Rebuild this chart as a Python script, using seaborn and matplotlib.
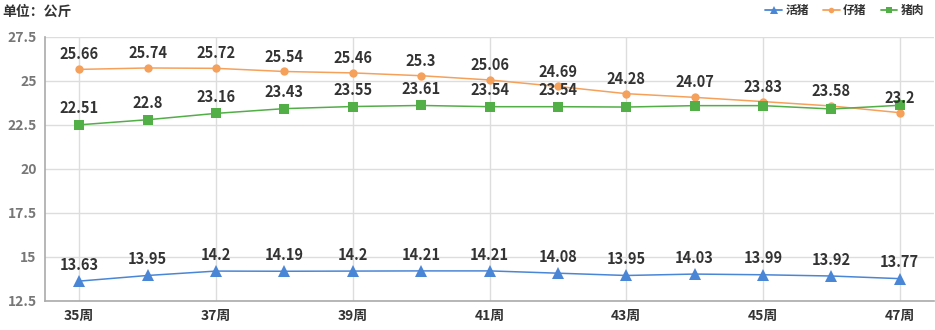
import matplotlib
matplotlib.use("Agg")
import matplotlib.pyplot as plt
import seaborn as sns
import pandas as pd
from matplotlib.lines import Line2D

weeks = [35, 36, 37, 38, 39, 40, 41, 42, 43, 44, 45, 46, 47]
tick_weeks = [35, 37, 39, 41, 43, 45, 47]
tick_labels = ["35周", "37周", "39周", "41周", "43周", "45周", "47周"]
live_pig = [13.63, 13.95, 14.2, 14.19, 14.2, 14.21, 14.21, 14.08, 13.95, 14.03, 13.99, 13.92, 13.77]
piglet = [25.66, 25.74, 25.72, 25.54, 25.46, 25.3, 25.06, 24.69, 24.28, 24.07, 23.83, 23.58, 23.2]
pork = [22.51, 22.8, 23.16, 23.43, 23.55, 23.61, 23.54, 23.54, 23.52, 23.6, 23.6, 23.41, 23.62]
pork_labeled = 8  # only the first 8 pork labels are visible in the original
y_ticks = [12.5, 15, 17.5, 20, 22.5, 25, 27.5]
y_tick_labels = ["12.5", "15", "17.5", "20", "22.5", "25", "27.5"]

sns.set_theme(style="white")
plt.rcParams['font.family'] = ['Noto Sans CJK SC', 'DejaVu Sans']

fig = plt.figure(figsize=(9.35, 3.3), dpi=100)
ax = fig.add_axes([45/935, 29/330, 889/935, 264/330])

c_blue = "#4a86d6"
c_orange = "#f6a15b"
c_green = "#52ae47"

df = pd.DataFrame({"week": weeks, "活猪": live_pig, "仔猪": piglet, "猪肉": pork})

sns.lineplot(data=df, x="week", y="活猪", ax=ax, color=c_blue, marker="^",
             markersize=9, markeredgewidth=0, linewidth=1.1)
sns.lineplot(data=df, x="week", y="仔猪", ax=ax, color=c_orange, marker="o",
             markersize=6, markeredgewidth=0, linewidth=1.1)
sns.lineplot(data=df, x="week", y="猪肉", ax=ax, color=c_green, marker="s",
             markersize=7, markeredgewidth=0, linewidth=1.1)

lab_kw = dict(textcoords="offset points", ha="center", va="bottom",
              fontsize=10.5, fontweight="bold", color="#333333")
for w, v in zip(weeks, live_pig):
    ax.annotate(f"{v:g}", (w, v), xytext=(0, 6), **lab_kw)
for w, v in zip(weeks, piglet):
    ax.annotate(f"{v:g}", (w, v), xytext=(0, 5), **lab_kw)
for w, v in list(zip(weeks, pork))[:pork_labeled]:
    ax.annotate(f"{v:g}", (w, v), xytext=(0, 6), **lab_kw)

ax.set_xlim(34.5, 47.5)
ax.set_ylim(12.5, 27.5)
ax.set_xticks(tick_weeks)
ax.set_xticklabels(tick_labels, fontsize=10, fontweight="bold", color="#333333")
ax.set_yticks(y_ticks)
ax.set_yticklabels(y_tick_labels, fontsize=10, fontweight="bold", color="#777777")
ax.set_xlabel("")
ax.set_ylabel("")
ax.tick_params(axis="both", length=0, pad=6)
ax.grid(True, color="#dddddd", linewidth=1)
ax.set_axisbelow(True)
for s in ["top", "right"]:
    ax.spines[s].set_visible(False)
for s in ["left", "bottom"]:
    ax.spines[s].set_color("#aaaaaa")
    ax.spines[s].set_linewidth(1.2)

fig.text(2/935, 1 - 12/330, "单位：公斤", fontsize=10, fontweight="bold",
         color="#333333", va="center", ha="left")

handles = [
    Line2D([0], [0], color=c_blue, marker="^", markersize=6, markeredgewidth=0, linewidth=1.3),
    Line2D([0], [0], color=c_orange, marker="o", markersize=4, markeredgewidth=0, linewidth=1.3),
    Line2D([0], [0], color=c_green, marker="s", markersize=5, markeredgewidth=0, linewidth=1.3),
]
fig.legend(handles, ["活猪", "仔猪", "猪肉"], loc="upper right",
           bbox_to_anchor=(1.0, 1.02), ncol=3, frameon=False,
           prop={"size": 8.5, "weight": "bold"}, handlelength=1.4,
           handletextpad=0.3, columnspacing=1.2, labelcolor="#333333")

fig.savefig("out.png", dpi=100)
